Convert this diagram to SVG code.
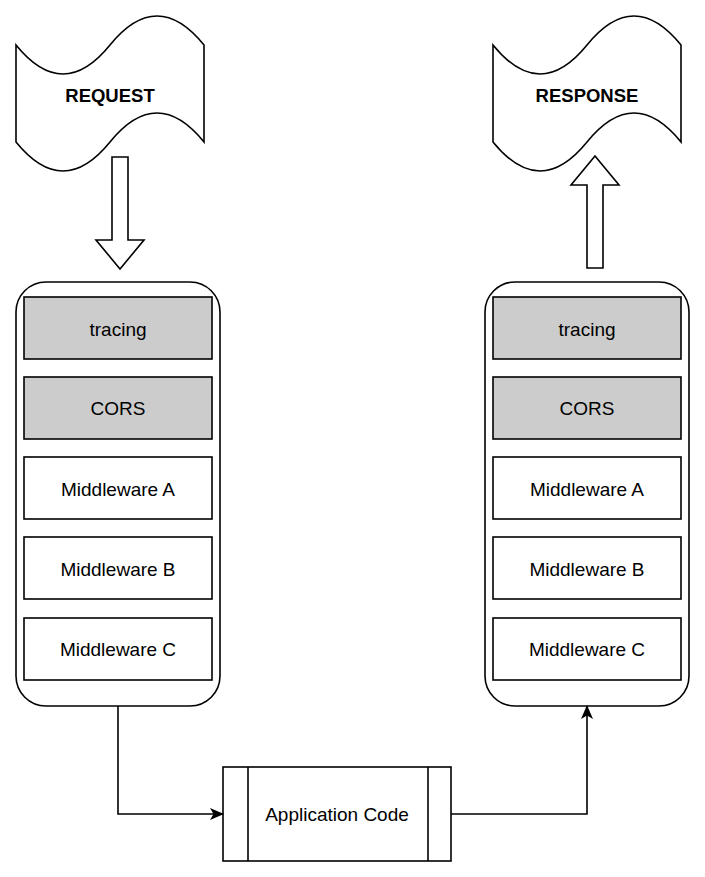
<svg xmlns="http://www.w3.org/2000/svg" width="705" height="877" viewBox="0 0 705 877">
<defs>
<style>
.s{stroke:#000;stroke-width:1.6;fill:#fff}
.g{stroke:#000;stroke-width:1.6;fill:#ccc}
.t{font-family:"Liberation Sans",Arial,sans-serif;font-size:19px;fill:#000;text-anchor:middle;dominant-baseline:central}
.b{font-weight:bold;font-size:18.5px}
.c{stroke:#000;stroke-width:1.6;fill:none}
</style>
<marker id="ah" viewBox="0 0 14 12" refX="13" refY="6" markerWidth="14" markerHeight="12" markerUnits="userSpaceOnUse" orient="auto">
<path d="M0,0 L14,6 L0,12 L3.5,6 Z" fill="#000"/>
</marker>
</defs>
<rect width="705" height="877" fill="#fff"/>

<g id="request">
<path class="s" d="M16,45 Q63,103 110,45 Q157,-13 204,45 L204,142 Q157,84 110,142 Q63,200 16,142 Z"/>
<text class="t b" x="110" y="95">REQUEST</text>
</g>
<g id="response">
<path class="s" d="M493,45 Q540,103 587,45 Q634,-13 681,45 L681,142 Q634,84 587,142 Q540,200 493,142 Z"/>
<text class="t b" x="587" y="95">RESPONSE</text>
</g>

<g id="arrow-down">
<path class="s" d="M112,157 L128,157 L128,240 L144,240 L120,269 L96,240 L112,240 Z"/>
</g>
<g id="arrow-up">
<path class="s" d="M587,268 L603,268 L603,185 L619,185 L595,156 L571,185 L587,185 Z"/>
</g>

<g id="left-stack">
<rect class="s" x="16" y="282" width="204" height="424" rx="30" ry="30"/>
<g id="l-tracing"><rect class="g" x="24" y="297" width="188" height="62"/><text class="t" x="118" y="329">tracing</text></g>
<g id="l-cors"><rect class="g" x="24" y="377" width="188" height="62"/><text class="t" x="118" y="408">CORS</text></g>
<g id="l-mwa"><rect class="s" x="24" y="457" width="188" height="62"/><text class="t" x="118" y="489">Middleware A</text></g>
<g id="l-mwb"><rect class="s" x="24" y="537" width="188" height="62"/><text class="t" x="118" y="569">Middleware B</text></g>
<g id="l-mwc"><rect class="s" x="24" y="618" width="188" height="62"/><text class="t" x="118" y="649">Middleware C</text></g>
</g>

<g id="right-stack">
<rect class="s" x="485" y="282" width="204" height="424" rx="30" ry="30"/>
<g id="r-tracing"><rect class="g" x="493" y="297" width="188" height="62"/><text class="t" x="587" y="329">tracing</text></g>
<g id="r-cors"><rect class="g" x="493" y="377" width="188" height="62"/><text class="t" x="587" y="408">CORS</text></g>
<g id="r-mwa"><rect class="s" x="493" y="457" width="188" height="62"/><text class="t" x="587" y="489">Middleware A</text></g>
<g id="r-mwb"><rect class="s" x="493" y="537" width="188" height="62"/><text class="t" x="587" y="569">Middleware B</text></g>
<g id="r-mwc"><rect class="s" x="493" y="618" width="188" height="62"/><text class="t" x="587" y="649">Middleware C</text></g>
</g>

<g id="app-code">
<rect class="s" x="223" y="767" width="228" height="94"/>
<line class="c" x1="248" y1="767" x2="248" y2="861"/>
<line class="c" x1="428" y1="767" x2="428" y2="861"/>
<text class="t" x="337" y="814">Application Code</text>
</g>

<g id="connectors">
<path class="c" d="M118,706 L118,814 L223,814" marker-end="url(#ah)"/>
<path class="c" d="M451,814 L587,814 L587,706" marker-end="url(#ah)"/>
</g>
</svg>
